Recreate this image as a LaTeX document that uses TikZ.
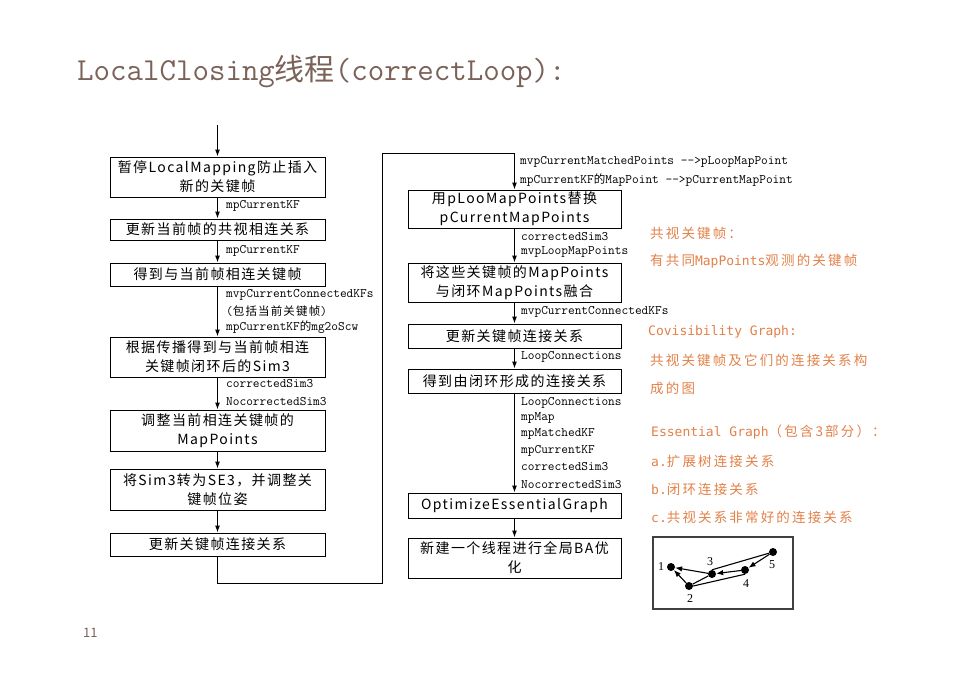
\documentclass[tikz,border=0pt]{standalone}
\usepackage{fontspec}
\setmainfont{Liberation Serif}
\newfontfamily\cjk[LetterSpace=10]{Noto Sans CJK SC}
\newfontfamily\cjkw[LetterSpace=16]{Noto Sans CJK SC}
\newfontfamily\cjkn{Noto Sans CJK SC}
\newfontfamily\dvm{DejaVu Sans Mono}
\usetikzlibrary{arrows.meta}
\definecolor{orng}{RGB}{226,128,72}
\definecolor{brwn}{RGB}{122,98,88}
\tikzset{
  box/.style={draw, line width=1pt, align=center, inner sep=0pt, font=\cjk\fontsize{14}{19}\selectfont},
  lbox/.style={box, minimum width=215pt},
  rbox/.style={box, minimum width=213pt},
  arr/.style={line width=1pt, -{Latex[length=7pt,width=5pt]}},
  lab/.style={anchor=west, inner sep=0pt, font=\ttfamily\fontsize{13}{13}\selectfont},
  note/.style={anchor=west, inner sep=0pt, text=orng, font=\cjkw\fontsize{13.5}{15}\selectfont},
  gdot/.style={circle, fill=black, inner sep=0pt, minimum size=8pt},
  gnum/.style={inner sep=0pt, font=\fontsize{12}{12}\selectfont},
  garr/.style={line width=1.1pt, -{Latex[length=7pt,width=5.5pt]}},
  gline/.style={line width=1.1pt}
}
\newcommand{\cjl}[1]{{\cjk\fontsize{11.5}{12}\selectfont #1}}
\newcommand{\dm}[1]{{\dvm\fontsize{13}{15}\selectfont #1}}
\begin{document}
\begin{tikzpicture}[x=1pt,y=-1pt]
\useasboundingbox (0,0) rectangle (959,678);
% title
\node[anchor=west, inner sep=0pt, text=brwn, font=\ttfamily\fontsize{32}{34}\selectfont] (title) at (77,72) {LocalClosing{\cjkn\fontsize{30}{34}\selectfont 线程}(correctLoop):};
\node[anchor=west, inner sep=0pt, text=brwn, font=\cjkn\fontsize{13}{14}\selectfont] (pg) at (83,633) {11};

% left column
\node[lbox, minimum height=40pt] (b1) at (217.5,177) {暂停LocalMapping防止插入\\新的关键帧};
\node[lbox, minimum height=21pt] (b2) at (217.5,229.5) {更新当前帧的共视相连关系};
\node[lbox, minimum height=23pt] (b3) at (217.5,274.5) {得到与当前帧相连关键帧};
\node[lbox, minimum height=40pt] (b4) at (217.5,357) {根据传播得到与当前帧相连\\关键帧闭环后的Sim3};
\node[lbox, minimum height=41pt] (b5) at (217.5,430.5) {调整当前相连关键帧的\\MapPoints};
\node[lbox, minimum height=41pt] (b6) at (217.5,489.5) {将Sim3转为SE3，并调整关\\键帧位姿};
\node[lbox, minimum height=23pt] (b7) at (217.5,544.5) {更新关键帧连接关系};

\coordinate (top) at (217.5,125);
\draw[arr] (top) -- (b1.north);
\draw[arr] (b1) -- (b2);
\draw[arr] (b2) -- (b3);
\draw[arr] (b3) -- (b4);
\draw[arr] (b4) -- (b5);
\draw[arr] (b5) -- (b6);
\draw[arr] (b6) -- (b7);

\node[lab] (l1) at (226,206) {mpCurrentKF};
\node[lab] (l2) at (226,251) {mpCurrentKF};
\node[lab] (l3) at (226,295) {mvpCurrentConnectedKFs};
\node[lab] (l4) at (226,311) {(\cjl{包括当前关键帧})};
\node[lab] (l5) at (226,327) {mpCurrentKF\cjl{的}mg2oScw};
\node[lab] (l6) at (226,384) {correctedSim3};
\node[lab] (l7) at (226,402) {NocorrectedSim3};

% right column
\node[rbox, minimum height=38pt] (b8) at (514.5,209) {用pLooMapPoints替换\\pCurrentMapPoints};
\node[rbox, minimum height=39pt] (b9) at (514.5,282.5) {将这些关键帧的MapPoints\\与闭环MapPoints融合};
\node[rbox, minimum height=24pt] (b10) at (514.5,336) {更新关键帧连接关系};
\node[rbox, minimum height=24pt] (b11) at (514.5,381) {得到由闭环形成的连接关系};
\node[rbox, minimum height=25pt] (b12) at (514.5,505.5) {OptimizeEssentialGraph};
\node[rbox, minimum height=40pt] (b13) at (514.5,558) {新建一个线程进行全局BA优\\化};

\coordinate (c1) at (382,583);
\coordinate (c2) at (382,153);
\draw[arr] (b7.south) |- (c1) -- (c2) -| (b8.north);
\draw[arr] (b8) -- (b9);
\draw[arr] (b9) -- (b10);
\draw[arr] (b10) -- (b11);
\draw[arr] (b11) -- (b12);
\draw[arr] (b12) -- (b13);

\node[lab] (r1) at (520,162) {mvpCurrentMatchedPoints -->pLoopMapPoint};
\node[lab] (r2) at (520,180) {mpCurrentKF\cjl{的}MapPoint -->pCurrentMapPoint};
\node[lab] (r3) at (521,237) {correctedSim3};
\node[lab] (r4) at (521,252) {mvpLoopMapPoints};
\node[lab] (r5) at (521,312) {mvpCurrentConnectedKFs};
\node[lab] (r6) at (521,357) {LoopConnections};
\node[lab] (r7) at (521,403) {LoopConnections};
\node[lab] (r8) at (521,418) {mpMap};
\node[lab] (r9) at (521,434) {mpMatchedKF};
\node[lab] (r10) at (521,451) {mpCurrentKF};
\node[lab] (r11) at (521,467) {correctedSim3};
\node[lab] (r12) at (521,485) {NocorrectedSim3};

% notes
\node[note] (n1) at (650,233) {共视关键帧：};
\node[note] (n2) at (650,261) {有共同\dm{MapPoints}观测的关键帧};
\node[note] (n3) at (648,332) {\dm{Covisibility Graph:}};
\node[note] (n4) at (650,360) {共视关键帧及它们的连接关系构};
\node[note] (n5) at (650,388) {成的图};
\node[note] (n6) at (651,432) {\dm{Essential Graph}（包含3部分）：};
\node[note] (n7) at (651,461) {\dm{a.}扩展树连接关系};
\node[note] (n8) at (651,489) {\dm{b.}闭环连接关系};
\node[note] (n9) at (651,517) {\dm{c.}共视关系非常好的连接关系};

% small graph
\node[draw, line width=1.2pt, draw=black!75, minimum width=140pt, minimum height=72pt, inner sep=0pt] (gbox) at (723,573) {};
\node[gdot] (g1) at (671,567) {};
\node[gdot] (g2) at (689,586) {};
\node[gdot] (g3) at (712,574) {};
\node[gdot] (g4) at (745,570) {};
\node[gdot] (g5) at (773,552) {};
\node[gnum] (t1) at (661,567) {1};
\node[gnum] (t2) at (690,599) {2};
\node[gnum] (t3) at (710,562) {3};
\node[gnum] (t4) at (746,584) {4};
\node[gnum] (t5) at (772,565) {5};
\draw[garr] (g3) -- (g1);
\draw[garr] (g2) -- (g1);
\draw[gline] (g2) -- (g3);
\draw[gline] (g2.east) -- (g4.south);
\draw[garr] (g4) -- (g3);
\draw[gline] (g3.north) -- (g5);
\draw[garr] (g5) -- (g4);
\end{tikzpicture}
\end{document}
